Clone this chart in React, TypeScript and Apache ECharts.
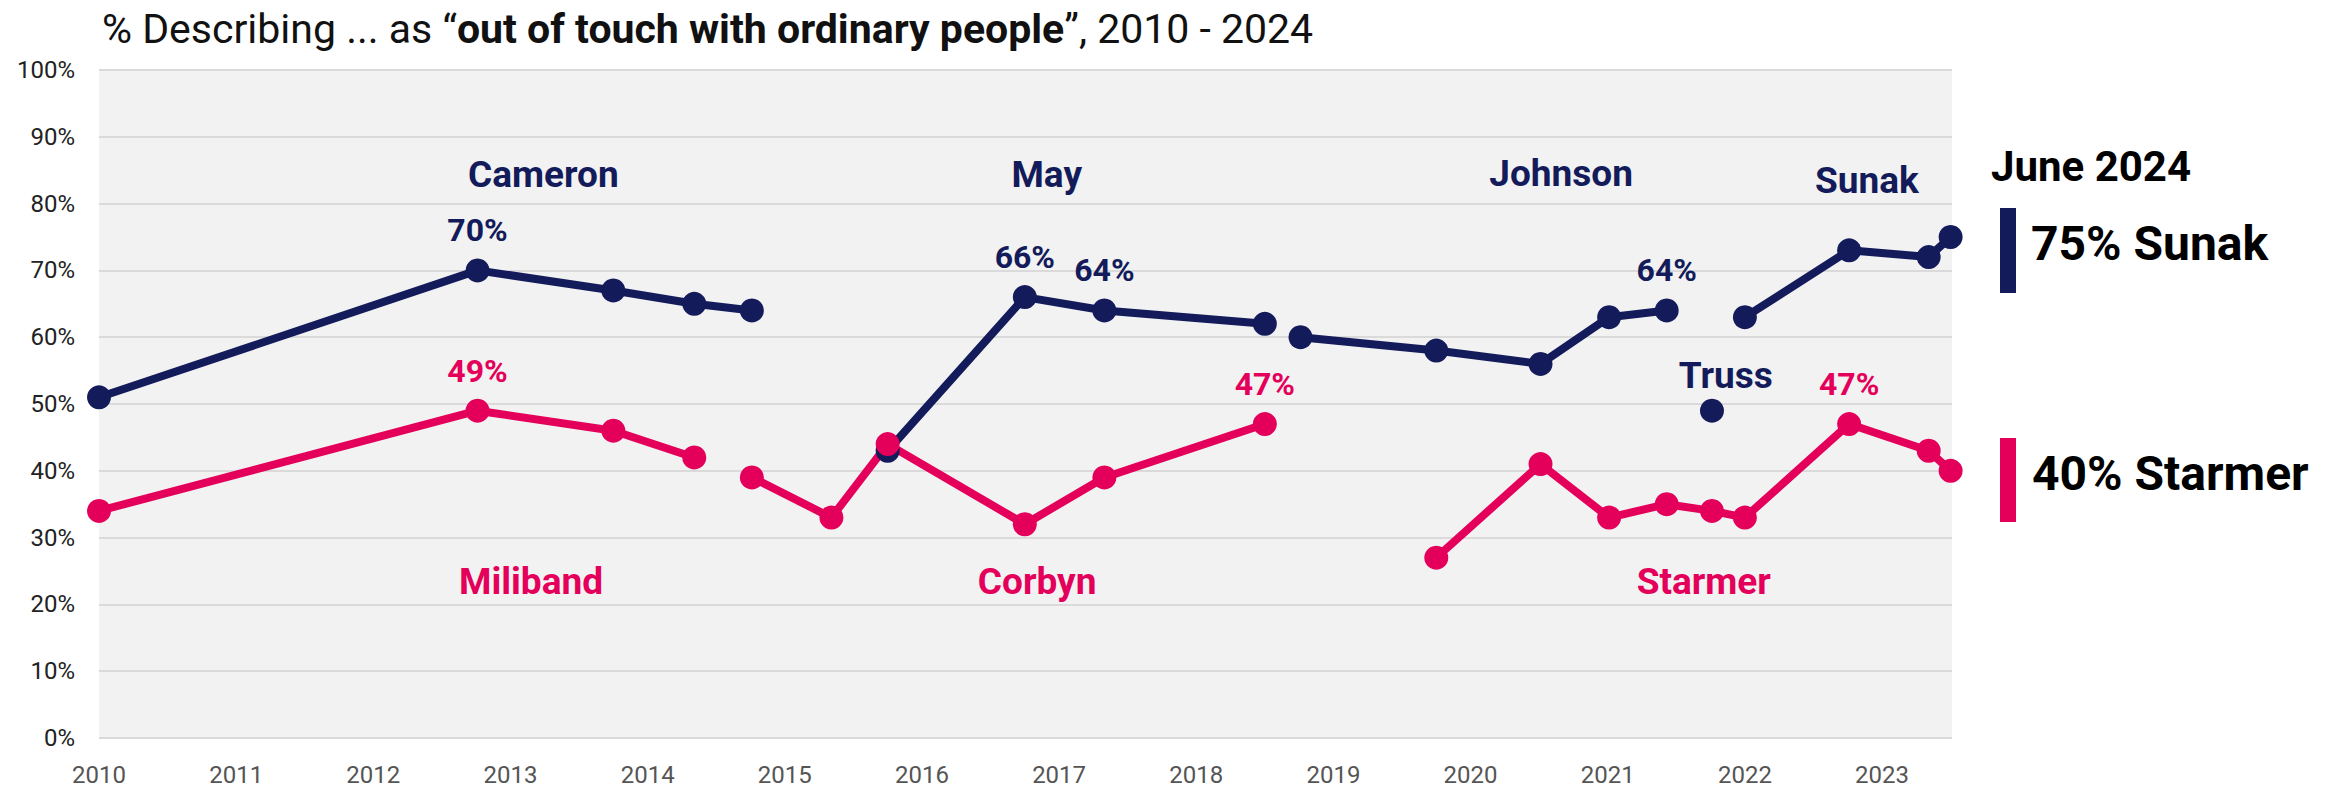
import React, { useEffect, useRef } from "react";
import * as echarts from "echarts";

const NAVY = "#131b5a";
const PINK = "#e4005a";

// Conservative leaders (x = fractional year position on axis, y = %)
const cameron = [[2010.0, 51], [2012.76, 70], [2013.75, 67], [2014.34, 65], [2014.76, 64]];
const may = [[2015.75, 43], [2016.75, 66], [2017.33, 64], [2018.5, 62]];
const johnson = [[2018.76, 60], [2019.75, 58], [2020.51, 56], [2021.01, 63], [2021.43, 64]];
const truss = [[2021.76, 49]];
const sunak = [[2022.0, 63], [2022.76, 73], [2023.34, 72], [2023.5, 75]];

// Labour leaders
const miliband = [[2010.0, 34], [2012.76, 49], [2013.75, 46], [2014.34, 42]];
const corbyn = [[2014.76, 39], [2015.34, 33], [2015.75, 44], [2016.75, 32], [2017.33, 39], [2018.5, 47]];
const starmer = [[2019.75, 27], [2020.51, 41], [2021.01, 33], [2021.43, 35], [2021.76, 34], [2022.0, 33], [2022.76, 47], [2023.34, 43], [2023.5, 40]];

// indices of points carrying a value label
const cameronLabelled = [1];
const mayLabelled = [1, 2];
const johnsonLabelled = [4];
const sunakLabelled: number[] = [];
const trussLabelled: number[] = [];
const milibandLabelled = [1];
const corbynLabelled = [5];
const starmerLabelled = [6];

// leader name annotations
const conNames = ["Cameron", "May", "Johnson", "Sunak", "Truss"];
const conNamePos = [[2013.24, 84.4], [2016.91, 84.4], [2020.66, 84.5], [2022.89, 83.5], [2021.86, 54.3]];
const labNames = ["Miliband", "Corbyn", "Starmer"];
const labNamePos = [[2013.15, 23.5], [2016.84, 23.5], [2021.7, 23.5]];

const yTicks = [0, 10, 20, 30, 40, 50, 60, 70, 80, 90, 100];
const latestLabel = "June 2024";
const latestSunak = 75;
const latestStarmer = 40;

const FONT = "Roboto, 'Noto Sans', sans-serif";

function lineSeries(data: number[][], labelled: number[], color: string) {
  return {
    type: "line",
    data: data.map((d, i) =>
      labelled.includes(i)
        ? {
            value: d,
            label: {
              show: true,
              position: "top",
              distance: 12,
              formatter: (p: any) => p.value[1] + "%",
              color,
              fontSize: 32,
              fontWeight: "bold",
              fontFamily: FONT,
            },
          }
        : { value: d }
    ),
    symbol: "circle",
    symbolSize: 24,
    showSymbol: true,
    lineStyle: { color, width: 8 },
    itemStyle: { color },
    emphasis: { disabled: true },
    silent: true,
    z: 3,
  };
}

function nameSeries(names: string[], pos: number[][], color: string) {
  return {
    type: "scatter",
    data: names.map((n, i) => ({ name: n, value: pos[i] })),
    symbolSize: 1,
    itemStyle: { color: "rgba(0,0,0,0)", opacity: 1 },
    label: {
      show: true,
      position: "inside",
      formatter: (p: any) => p.name,
      color,
      opacity: 1,
      fontSize: 37,
      fontWeight: "bold",
      fontFamily: FONT,
    },
    emphasis: { disabled: true },
    silent: true,
    z: 5,
  };
}

export default function App() {
  const ref = useRef<HTMLDivElement>(null);
  useEffect(() => {
    document.body.style.margin = "0";
    const chart = echarts.init(ref.current!, null, { renderer: "svg" });
    chart.setOption({
      animation: false,
      backgroundColor: "#ffffff",
      title: {
        left: 97,
        top: 3,
        text: "{a|% Describing ... as “}{b|out of touch with ordinary people}{a|”, 2010 - 2024}",
        textStyle: {
          rich: {
            a: { fontSize: 41, fontFamily: FONT, color: "#111", fontWeight: "normal" },
            b: { fontSize: 41, fontFamily: FONT, color: "#111", fontWeight: "bold" },
          },
        },
      },
      grid: {
        left: 99,
        right: 389,
        top: 70,
        bottom: 50,
        show: true,
        backgroundColor: "#f2f2f2",
        borderWidth: 0,
      },
      xAxis: {
        type: "value",
        min: 2010,
        max: 2023.51,
        interval: 1,
        axisLine: { show: false },
        axisTick: { show: false },
        splitLine: { show: false },
        axisLabel: {
          margin: 25,
          fontSize: 24,
          color: "#555",
          fontFamily: FONT,
          formatter: (v: number) => (Number.isInteger(v) ? String(v) : ""),
          showMaxLabel: false,
        },
      },
      yAxis: {
        type: "value",
        min: yTicks[0],
        max: yTicks[yTicks.length - 1],
        interval: 10,
        axisLine: { show: false },
        axisTick: { show: false },
        splitLine: { lineStyle: { color: "#dadada", width: 2 } },
        axisLabel: {
          margin: 24,
          fontSize: 24,
          color: "#222",
          fontFamily: FONT,
          formatter: "{value}%",
        },
      },
      series: [
        lineSeries(cameron, cameronLabelled, NAVY),
        lineSeries(may, mayLabelled, NAVY),
        lineSeries(johnson, johnsonLabelled, NAVY),
        lineSeries(truss, trussLabelled, NAVY),
        lineSeries(sunak, sunakLabelled, NAVY),
        lineSeries(miliband, milibandLabelled, PINK),
        lineSeries(corbyn, corbynLabelled, PINK),
        lineSeries(starmer, starmerLabelled, PINK),
        nameSeries(conNames, conNamePos, NAVY),
        nameSeries(labNames, labNamePos, PINK),
      ],
      graphic: [
        {
          type: "text",
          left: 1991,
          top: 145,
          style: { text: latestLabel, fontSize: 42, fontWeight: "bold", fontFamily: FONT, fill: "#000" },
        },
        { type: "rect", shape: { x: 2000, y: 208, width: 16, height: 85 }, style: { fill: NAVY } },
        {
          type: "text",
          left: 2031,
          top: 219,
          style: { text: latestSunak + "% Sunak", fontSize: 48, fontWeight: "bold", fontFamily: FONT, fill: "#000" },
        },
        { type: "rect", shape: { x: 2000, y: 438, width: 16, height: 84 }, style: { fill: PINK } },
        {
          type: "text",
          left: 2032,
          top: 449,
          style: { text: latestStarmer + "% Starmer", fontSize: 48, fontWeight: "bold", fontFamily: FONT, fill: "#000" },
        },
      ],
    });
    return () => chart.dispose();
  }, []);
  return <div ref={ref} style={{ width: 2341, height: 788 }} />;
}
